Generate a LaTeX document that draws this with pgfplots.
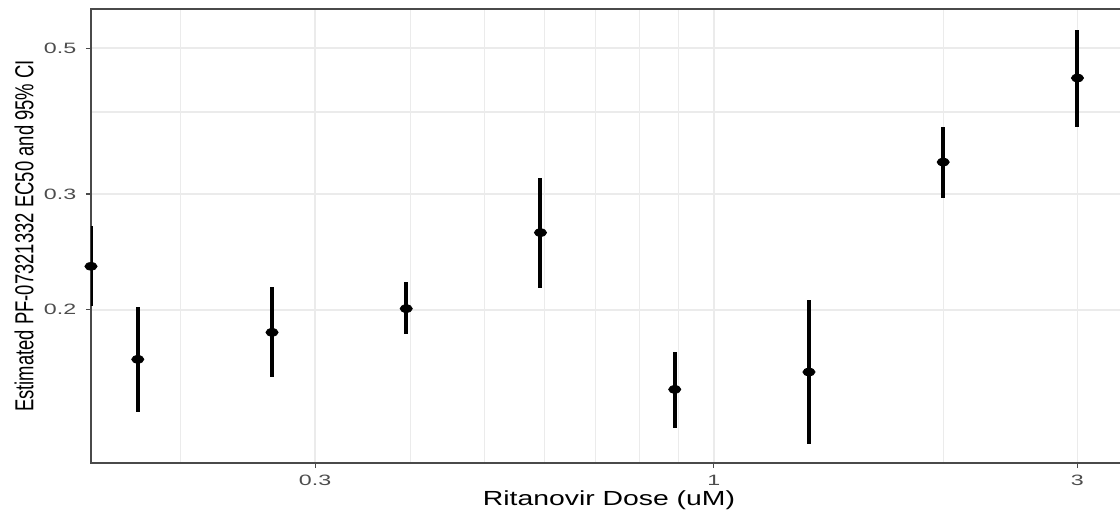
\documentclass[border=0pt]{standalone}
\usepackage{fontspec}
\setmainfont{Liberation Sans}
\newfontfamily\tickfont[FakeStretch=1.55]{Liberation Sans}
\newfontfamily\xlabfont[FakeStretch=1.39]{Liberation Sans}
\newfontfamily\ylabfont[FakeStretch=0.71]{Liberation Sans}
\usepackage{pgfplots}
\pgfplotsset{compat=1.18}
\definecolor{gridc}{HTML}{EBEBEB}
\definecolor{grey20}{HTML}{4A4A4A}
\definecolor{grey30}{HTML}{4D4D4D}
\pgfplotstableread{
x       y       ep      em
0.15245 0.2329  0.0351  0.0305
0.1756  0.1681  0.0336  0.0285
0.2634  0.1848  0.0315  0.0269
0.3951  0.2008  0.0194  0.0173
0.5926  0.2621  0.0552  0.0459
0.8889  0.1513  0.0214  0.0190
1.3333  0.1608  0.0459  0.0360
2.0000  0.3356  0.0439  0.0395
3.0000  0.4505  0.0834  0.0710
}\ecdata
\begin{document}
\begin{tikzpicture}
\begin{axis}[
  name=ax, scale only axis, width=518pt, height=227pt,
  xmode=log, ymode=log,
  xmin=0.15245, xmax=3.4847, ymin=0.1169, ymax=0.5738,
  xtick={0.3,1,3}, xticklabels={0.3,1,3},
  ytick={0.2,0.3,0.5}, yticklabels={0.2,0.3,0.5},
  minor xtick={0.2,0.4,0.5,0.6,0.7,0.8,0.9,2},
  minor ytick={0.4},
  grid=both,
  major grid style={draw=gridc, line width=0.9pt},
  minor grid style={draw=gridc, line width=0.55pt},
  tick align=outside, tick pos=left,
  major tick length=2.6pt, minor tick length=0pt,
  tick style={draw=grey20, line width=0.6pt},
  axis line style={draw=grey20, line width=0.7pt},
  xticklabel style={font=\tickfont\fontsize{7.5}{8}\selectfont, text=grey30, anchor=base, inner sep=0pt, yshift=-8.6pt},
  yticklabel style={font=\tickfont\fontsize{7.5}{8}\selectfont, text=grey30, anchor=east, inner sep=0pt, xshift=-4.6pt},
  xlabel={Ritanovir Dose (uM)},
  xlabel style={font=\xlabfont\fontsize{10.2}{12}\selectfont, at={(axis description cs:0.5,0)}, anchor=base, inner sep=0pt, yshift=-21.5pt},
  ylabel={Estimated PF-07321332 EC50 and 95\% CI},
  ylabel style={font=\ylabfont\fontsize{13}{14}\selectfont, at={(axis description cs:-0.0647,0.5)}, anchor=center, inner sep=0pt},
]
\addplot[only marks, mark=*, mark size=1.9pt,
  mark options={xscale=1.6, fill=black, draw=black},
  error bars/.cd, y dir=both, y explicit, error mark=none,
  error bar style={line width=2pt, black}]
  table[x=x, y=y, y error plus=ep, y error minus=em] {\ecdata};
\end{axis}
\pgfresetboundingbox
\path ([xshift=-45.5pt,yshift=-24pt]ax.south west) rectangle ([xshift=-3.5pt,yshift=4.5pt]ax.north east);
\end{tikzpicture}
\end{document}
